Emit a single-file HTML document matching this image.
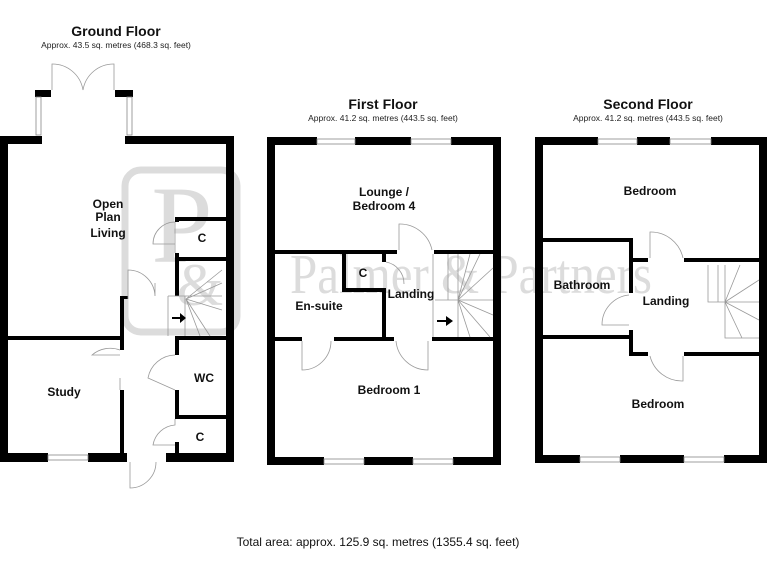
<!DOCTYPE html>
<html><head><meta charset="utf-8"><style>
html,body{margin:0;padding:0;background:#fff;width:768px;height:576px;overflow:hidden}
svg{display:block}
.t{font-family:"Liberation Sans",sans-serif;font-weight:bold;font-size:14px;text-anchor:middle;fill:#111}
.s{font-family:"Liberation Sans",sans-serif;font-size:8.5px;text-anchor:middle;fill:#222}
.r{font-family:"Liberation Sans",sans-serif;font-weight:bold;font-size:12px;text-anchor:middle;fill:#111}
.w{fill:#000}
.d{fill:none;stroke:#999;stroke-width:0.8}
.win{fill:#fff;stroke:#888;stroke-width:0.8}
</style></head><body>
<svg width="768" height="576" viewBox="0 0 768 576" xmlns="http://www.w3.org/2000/svg">
<!-- watermark -->
<rect x="125" y="170" width="112" height="162" rx="16" fill="none" stroke="#dcdcdc" stroke-width="7"/>
<text x="182" y="262" font-family="Liberation Serif,serif" font-size="110" fill="#dcdcdc" text-anchor="middle">P</text>
<text x="200" y="305" font-family="Liberation Serif,serif" font-size="60" fill="#dcdcdc" text-anchor="middle">&amp;</text>
<text x="290" y="293" font-family="Liberation Serif,serif" font-size="56" fill="#dcdcdc" textLength="362" lengthAdjust="spacingAndGlyphs">Palmer &amp; Partners</text>

<!-- titles -->
<text class="t" x="116" y="36">Ground Floor</text>
<text class="s" x="116" y="48">Approx. 43.5 sq. metres (468.3 sq. feet)</text>
<text class="t" x="383" y="109">First Floor</text>
<text class="s" x="383" y="121">Approx. 41.2 sq. metres (443.5 sq. feet)</text>
<text class="t" x="648" y="109">Second Floor</text>
<text class="s" x="648" y="121">Approx. 41.2 sq. metres (443.5 sq. feet)</text>
<text x="378" y="546" font-family="Liberation Sans,sans-serif" font-size="12" text-anchor="middle" fill="#111">Total area: approx. 125.9 sq. metres (1355.4 sq. feet)</text>

<!-- GROUND FLOOR -->
<g class="w">
<rect x="0" y="136" width="8" height="326"/>
<rect x="0" y="136" width="42" height="8"/>
<rect x="125" y="136" width="109" height="8"/>
<rect x="226" y="136" width="8" height="326"/>
<rect x="0" y="453" width="48" height="9"/>
<rect x="88" y="453" width="39" height="9"/>
<rect x="166" y="453" width="68" height="9"/>
<rect x="35" y="90" width="16" height="7"/>
<rect x="115" y="90" width="18" height="7"/>
<rect x="0" y="336" width="124" height="4"/>
<rect x="120" y="296" width="4" height="54"/>
<rect x="120" y="390" width="4" height="63"/>
<rect x="124" y="296" width="4" height="3"/>
<rect x="175" y="217" width="51" height="4"/>
<rect x="175" y="217" width="4" height="5"/>
<rect x="175" y="253" width="4" height="9"/>
<rect x="175" y="257" width="51" height="4"/>
<rect x="175" y="257" width="4" height="39"/>
<rect x="175" y="336" width="51" height="4"/>
<rect x="175" y="336" width="4" height="19"/>
<rect x="175" y="390" width="4" height="29"/>
<rect x="175" y="415" width="51" height="4"/>
<rect x="175" y="442" width="4" height="11"/>
</g>
<rect class="win" x="48" y="455" width="40" height="5"/>
<rect class="win" x="36" y="97" width="5" height="38"/>
<rect class="win" x="127" y="97" width="5" height="38"/>
<path class="d" d="M52 90 V64 A31 31 0 0 1 83 90 M114 90 V64 A31 31 0 0 0 83 90"/>
<path class="d" d="M175 222 A22 22 0 0 0 153 244 H175 M175 253 V222"/>
<path class="d" d="M128 299 V270 A27 27 0 0 1 155 296 M155 296 V283"/>
<path class="d" d="M120 350 A28 28 0 0 0 92 355 H120 M120 378 V390"/>
<path class="d" d="M175 355 A28 28 0 0 0 148 378 L175 390"/>
<path class="d" d="M175 419 V425 A24 24 0 0 0 153 445 H175"/>
<path class="d" d="M130 462 V488 A26 26 0 0 0 156 462"/>
<path class="d" d="M168 296 H222 M168 296 V336 M185 296 V336 M186 299 L222 270 M186 299 L222 283 M186 299 L222 310 M186 299 L210 336 M186 299 L200 336"/>
<path d="M172 317 H180 V313 L186 318 L180 323 V319 H172 Z" fill="#000"/>
<text class="r" x="108" y="208">Open</text>
<text class="r" x="108" y="221">Plan</text>
<text class="r" x="108" y="237">Living</text>
<text class="r" x="202" y="242">C</text>
<text class="r" x="64" y="396">Study</text>
<text class="r" x="204" y="382">WC</text>
<text class="r" x="200" y="441">C</text>

<!-- FIRST FLOOR -->
<g class="w">
<rect x="267" y="137" width="8" height="328"/>
<rect x="493" y="137" width="8" height="328"/>
<rect x="267" y="137" width="50" height="8"/>
<rect x="355" y="137" width="56" height="8"/>
<rect x="451" y="137" width="50" height="8"/>
<rect x="267" y="457" width="57" height="8"/>
<rect x="364" y="457" width="49" height="8"/>
<rect x="453" y="457" width="48" height="8"/>
<rect x="267" y="250" width="130" height="4"/>
<rect x="434" y="250" width="59" height="4"/>
<rect x="267" y="337" width="35" height="4"/>
<rect x="334" y="337" width="60" height="4"/>
<rect x="432" y="337" width="61" height="4"/>
<rect x="342" y="254" width="4" height="38"/>
<rect x="342" y="288" width="44" height="4"/>
<rect x="382" y="288" width="4" height="51"/>
<rect x="382" y="254" width="4" height="8"/>
</g>
<rect class="win" x="317" y="139" width="38" height="5"/>
<rect class="win" x="411" y="139" width="40" height="5"/>
<rect class="win" x="324" y="459" width="40" height="5"/>
<rect class="win" x="413" y="459" width="40" height="5"/>
<path class="d" d="M399 250 V224 A33 33 0 0 1 432 250"/>
<path class="d" d="M386 262 A22 22 0 0 1 404 284"/>
<path class="d" d="M302 341 V370 A29 29 0 0 0 331 341"/>
<path class="d" d="M396 341 A32 32 0 0 0 428 370 V341"/>
<path class="d" d="M433 254 V337 M448 254 V300 M458 254 V337 M458 300 H493 M435 300 H458 M458 300 L470 254 M458 300 L480 254 M458 300 L493 268 M458 300 L493 315 M458 300 L490 337 M458 300 L470 337"/>
<path d="M437 320 H446 V316 L453 321 L446 326 V322 H437 Z" fill="#000"/>
<text class="r" x="384" y="196">Lounge /</text>
<text class="r" x="384" y="210">Bedroom 4</text>
<text class="r" x="363" y="277">C</text>
<text class="r" x="411" y="298">Landing</text>
<text class="r" x="319" y="310">En-suite</text>
<text class="r" x="389" y="394">Bedroom 1</text>

<!-- SECOND FLOOR -->
<g class="w">
<rect x="535" y="137" width="8" height="326"/>
<rect x="759" y="137" width="8" height="326"/>
<rect x="535" y="137" width="63" height="8"/>
<rect x="637" y="137" width="33" height="8"/>
<rect x="711" y="137" width="56" height="8"/>
<rect x="535" y="455" width="45" height="8"/>
<rect x="620" y="455" width="64" height="8"/>
<rect x="724" y="455" width="43" height="8"/>
<rect x="535" y="238" width="98" height="4"/>
<rect x="629" y="238" width="4" height="24"/>
<rect x="629" y="258" width="19" height="4"/>
<rect x="684" y="258" width="75" height="4"/>
<rect x="629" y="258" width="4" height="35"/>
<rect x="629" y="330" width="4" height="26"/>
<rect x="535" y="335" width="98" height="4"/>
<rect x="629" y="352" width="19" height="4"/>
<rect x="684" y="352" width="75" height="4"/>
</g>
<rect class="win" x="598" y="139" width="39" height="5"/>
<rect class="win" x="670" y="139" width="41" height="5"/>
<rect class="win" x="580" y="457" width="40" height="5"/>
<rect class="win" x="684" y="457" width="40" height="5"/>
<path class="d" d="M650 258 V232 A33 33 0 0 1 683 258"/>
<path class="d" d="M629 295 A30 30 0 0 0 602 325 H629"/>
<path class="d" d="M650 356 A33 33 0 0 0 683 381 V356"/>
<path class="d" d="M708 265 V302 H759 M718 265 V302 M725 265 V338 H759 M725 302 L740 265 M725 302 L759 280 M725 302 L759 320 M725 302 L742 338"/>
<text class="r" x="650" y="195">Bedroom</text>
<text class="r" x="582" y="289">Bathroom</text>
<text class="r" x="666" y="305">Landing</text>
<text class="r" x="658" y="408">Bedroom</text>
</svg>
</body></html>
